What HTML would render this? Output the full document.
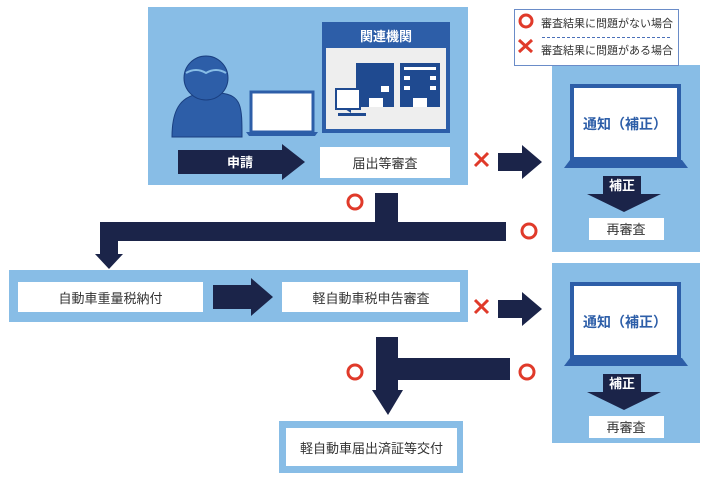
<!DOCTYPE html>
<html><head><meta charset="utf-8"><style>
body{margin:0;width:710px;height:478px;background:#fff;position:relative;overflow:hidden;font-family:"Liberation Sans","Noto Sans CJK JP",sans-serif;}
.a{position:absolute;}
.lb{background:#88bde6;position:absolute;}
.wb{background:#fff;position:absolute;display:flex;align-items:center;justify-content:center;font-size:13px;color:#333;}
</style></head><body>
<div class="lb" style="left:148px;top:7px;width:320px;height:178px"></div>
<div class="lb" style="left:9px;top:270px;width:459px;height:52px"></div>
<div class="lb" style="left:279px;top:421px;width:184px;height:52px"></div>
<div class="lb" style="left:552px;top:65px;width:148px;height:187px"></div>
<div class="lb" style="left:552px;top:263px;width:148px;height:180px"></div>
<div class="wb" style="left:18px;top:282px;width:185px;height:30px">自動車重量税納付</div>
<div class="wb" style="left:282px;top:282px;width:178px;height:30px">軽自動車税申告審査</div>
<div class="wb" style="left:286px;top:428px;width:171px;height:38px">軽自動車届出済証等交付</div>
<div class="wb" style="left:320px;top:147px;width:130px;height:31px">届出等審査</div>
<div class="a" style="left:514px;top:9px;width:163px;height:55px;border:1px solid #6a8cc8;background:#fff;font-size:11px;color:#333;">
<div style="position:absolute;left:26px;top:5px">審査結果に問題がない場合</div>
<div style="position:absolute;left:26px;top:32px">審査結果に問題がある場合</div>
<div style="position:absolute;left:27px;top:27px;width:128px;border-top:1px dashed #4a70b8;"></div>
</div>
<svg class="a" style="left:0;top:0" width="710" height="478">
<g fill="none" stroke="#e03a2a" stroke-width="3">
<circle cx="526" cy="21" r="6"/><path d="M519 40l13 12M532 40l-13 12"/>
<circle cx="355" cy="202" r="7"/><circle cx="529" cy="231" r="7"/>
<circle cx="355" cy="372" r="7"/><circle cx="527" cy="372" r="7"/>
<path d="M475 153l13 13M488 153l-13 13M475 300l13 13M488 300l-13 13"/>
</g>
<g fill="#1b2449">
<path d="M375 193h23v29h108v19h-388v13h5l-14 15l-14-15h5v-32h275z"/>
<path d="M213 285h38v-7l22 19l-22 19v-7h-38z"/>
<path d="M498 153h24v-8l20 17l-20 17v-8h-24z"/>
<path d="M498 300h24v-8l20 17l-20 17v-8h-24z"/>
<path d="M376 337h22v21h112v22h-112v10h5l-15 25l-16-25h4z"/>
<path d="M178 150h104v-6l23 18l-23 18v-6h-104z"/>
</g>
<text x="240" y="167" fill="#fff" font-size="13" font-weight="bold" text-anchor="middle">申請</text>
<g fill="#2d5ea8" stroke="#1a3f80" stroke-width="1">
<path d="M172 137c0-30 10-42 32-44l16 0c22 2 22 14 22 44z"/>
<circle cx="206" cy="78" r="22"/>
</g>
<path d="M186 73q10-6 20 0q10-6 20 0" stroke="#88bde6" stroke-width="2" fill="none"/>
<rect x="251" y="92" width="62" height="40" fill="#fff" stroke="#2d5ea8" stroke-width="3"/>
<path d="M246 132h72l-3 4h-66z" fill="#2d5ea8"/>
<rect x="322" y="22" width="128" height="111" fill="#2d5ea8"/>
<rect x="326" y="48" width="120" height="81" fill="#eeeeee"/>
<text x="386" y="41" fill="#fff" font-size="13" font-weight="bold" text-anchor="middle">関連機関</text>
<rect x="356" y="63" width="38" height="44" fill="#1f4a90"/>
<rect x="400" y="63" width="40" height="44" fill="#1f4a90"/>
<g fill="#fff"><rect x="404" y="67" width="32" height="3"/><rect x="404" y="76" width="6" height="4"/><rect x="430" y="76" width="6" height="4"/><rect x="404" y="86" width="6" height="4"/><rect x="430" y="86" width="6" height="4"/><rect x="413" y="98" width="14" height="9"/><rect x="369" y="98" width="14" height="9"/><rect x="381" y="86" width="8" height="6"/></g>
<rect x="336" y="89" width="24" height="20" fill="#fff" stroke="#1f4a90" stroke-width="2"/>
<path d="M345 109h6v4h-13v3h28v-3h-15" fill="#1f4a90"/>
<g id="p">
<rect x="572" y="86" width="107" height="73" fill="#fff" stroke="#2d5ea8" stroke-width="4"/>
<path d="M570 160h112l6 8h-124z" fill="#2d5ea8"/>
<text x="625" y="129" fill="#2d5ea8" font-size="14" font-weight="bold" text-anchor="middle">通知（補正）</text>
<path d="M603 176h38v18h20l-37 18l-37-18h16z" fill="#1b2449"/>
<text x="622" y="190" fill="#fff" font-size="13" font-weight="bold" text-anchor="middle">補正</text>
<rect x="589" y="218" width="75" height="22" fill="#fff"/>
<text x="626" y="234" fill="#333" font-size="13" text-anchor="middle">再審査</text>
</g>
<use href="#p" y="198"/>
</svg>
</body></html>
